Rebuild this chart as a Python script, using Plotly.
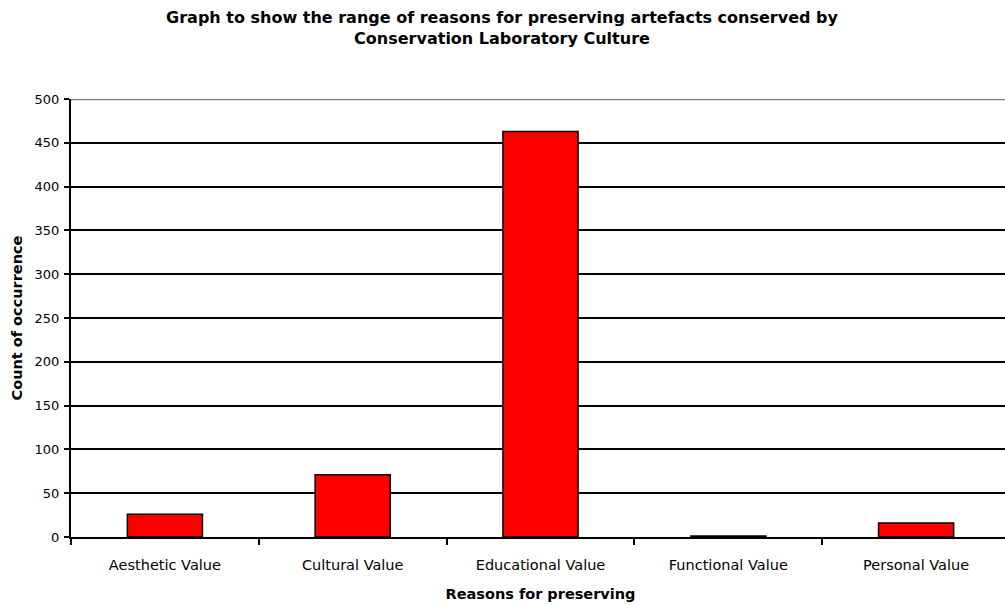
import plotly.graph_objects as go

categories = ["Aesthetic Value", "Cultural Value", "Educational Value", "Functional Value", "Personal Value"]
counts = [26, 71, 463, 1, 16]
y_ticks = [0, 50, 100, 150, 200, 250, 300, 350, 400, 450, 500]

fig = go.Figure(go.Bar(
    x=categories, y=counts,
    marker=dict(color="#FF0000", line=dict(color="black", width=1.5)),
))

font = "DejaVu Sans, Liberation Sans, Arial, sans-serif"
fig.update_layout(
    width=1010, height=605,
    margin=dict(l=71, r=0, t=99, b=68, autoexpand=False),
    paper_bgcolor="white", plot_bgcolor="white",
    bargap=0.6,
    showlegend=False,
    font=dict(family=font, size=14, color="black"),
    title=dict(
        text="<b>Graph to show the range of reasons for preserving artefacts conserved by<br>Conservation Laboratory Culture</b>",
        x=502 / 1010, xanchor="center", yref="container", y=0.962, yanchor="top",
        font=dict(family=font, size=16, color="black"),
    ),
    xaxis=dict(
        title=dict(text="<b>Reasons for preserving</b>", font=dict(size=14.5), standoff=16),
        showline=True, linecolor="black", linewidth=2,
        ticks="outside", tickson="boundaries", ticklen=6, tickcolor="black", tickwidth=2,
        tickfont=dict(size=14.5), ticklabelstandoff=14, showgrid=False, automargin=True,
    ),
    yaxis=dict(
        title=dict(text="<b>Count of occurrence</b>", font=dict(size=14.5), standoff=8),
        range=[0, 500], tickvals=y_ticks,
        showline=True, linecolor="black", linewidth=2,
        ticks="outside", ticklen=5, tickcolor="black", tickwidth=2,
        tickfont=dict(size=13), ticklabelstandoff=2, automargin=True,
        showgrid=True, gridcolor="black", gridwidth=1.5,
        zeroline=False,
    ),
)
fig.add_shape(type="line", xref="paper", yref="y", x0=0, x1=1, y0=500, y1=500,
              line=dict(color="#808080", width=2.5), layer="above")
fig.write_html("out.html", config={"displayModeBar": False},
               post_script="document.body.style.margin='0';document.body.style.overflow='hidden';")
